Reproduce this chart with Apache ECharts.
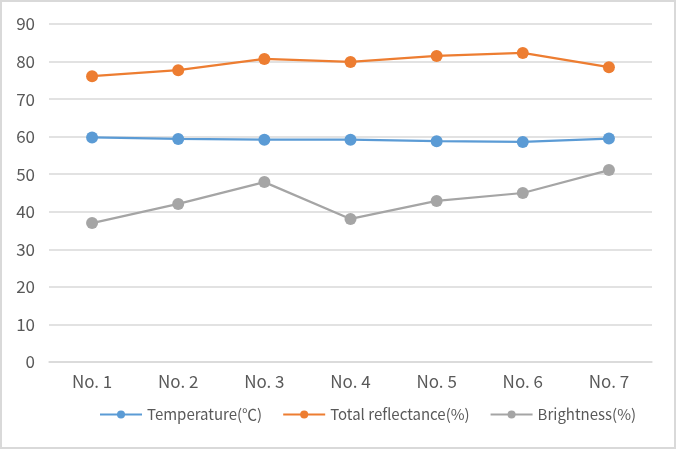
<!DOCTYPE html>
<html>
<head>
<meta charset="utf-8">
<script src="https://cdn.jsdelivr.net/npm/echarts@6/dist/echarts.min.js"></script>
<style>
html,body{margin:0;padding:0;background:#fff;}
#wrap{position:absolute;left:0;top:0;width:672px;height:445px;border:2px solid #d9d9d9;background:#fff;}
#chart{width:672px;height:445px;}
</style>
</head>
<body>
<div id="wrap"><div id="chart"></div></div>
<script>
const categories = ['No. 1','No. 2','No. 3','No. 4','No. 5','No. 6','No. 7'];
const temperature = [59.8, 59.4, 59.2, 59.2, 58.8, 58.6, 59.5];
const reflectance = [76.1, 77.7, 80.7, 79.9, 81.5, 82.3, 78.5];
const brightness = [37.0, 42.1, 47.9, 38.1, 42.9, 45.0, 51.1];
const seriesNames = ['Temperature(℃)', 'Total reflectance(%)', 'Brightness(%)'];
const colors = ['#5B9BD5', '#ED7D31', '#A5A5A5'];

const font = '"Noto Sans CJK SC", "Noto Sans", sans-serif';
const chart = echarts.init(document.getElementById('chart'));
function mk(name, data, color) {
  return {
    name: name, type: 'line', data: data,
    symbol: 'circle', symbolSize: 12,
    itemStyle: {color: color},
    lineStyle: {color: color, width: 2.25},
    emphasis: {disabled: true}
  };
}
chart.setOption({
  animation: false,
  textStyle: {fontFamily: font},
  grid: {left: 47, right: 22, top: 22, bottom: 85},
  legend: {
    bottom: 20, left: 92,
    itemWidth: 42, itemHeight: 10, itemGap: 20,
    textStyle: {fontSize: 15, color: '#595959', fontFamily: font},
    data: seriesNames
  },
  xAxis: {
    type: 'category', data: categories, boundaryGap: true,
    axisLine: {lineStyle: {color: '#d9d9d9', width: 1.5}},
    axisTick: {show: false},
    axisLabel: {fontSize: 17, color: '#595959', margin: 11, fontFamily: font}
  },
  yAxis: {
    type: 'value', min: 0, max: 90, interval: 10,
    axisLine: {show: false}, axisTick: {show: false},
    splitLine: {lineStyle: {color: '#d9d9d9', width: 1.5}},
    axisLabel: {fontSize: 17, color: '#595959', margin: 14, fontFamily: font}
  },
  series: [
    mk(seriesNames[0], temperature, colors[0]),
    mk(seriesNames[1], reflectance, colors[1]),
    mk(seriesNames[2], brightness, colors[2])
  ]
});
</script>
</body>
</html>
